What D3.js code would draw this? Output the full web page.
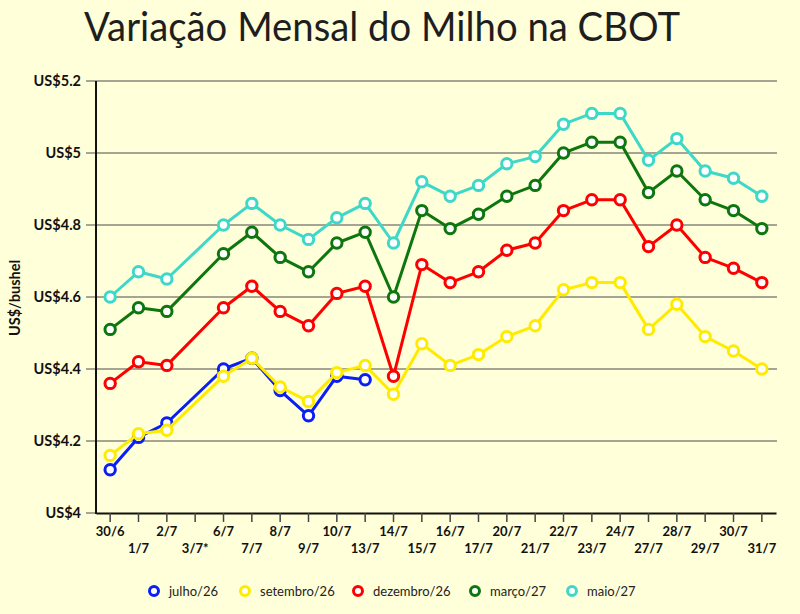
<!DOCTYPE html>
<html><head><meta charset="utf-8">
<script src="https://cdn.jsdelivr.net/npm/d3@7"></script>
<style>
html,body{margin:0;padding:0;background:#FFFFD9;}
svg{display:block;font-family:Lato,"Open Sans",sans-serif;}
</style></head>
<body>
<svg id="c" width="800" height="614"></svg>
<script>
const categories = ["30/6","1/7","2/7","3/7*","6/7","7/7","8/7","9/7","10/7","13/7","14/7","15/7","16/7","17/7","20/7","21/7","22/7","23/7","24/7","27/7","28/7","29/7","30/7","31/7"];
const julho26 =    [4.12,4.21,4.25,null,4.40,4.43,4.34,4.27,4.38,4.37,null,null,null,null,null,null,null,null,null,null,null,null,null,null];
const setembro26 = [4.16,4.22,4.23,null,4.38,4.43,4.35,4.31,4.39,4.41,4.33,4.47,4.41,4.44,4.49,4.52,4.62,4.64,4.64,4.51,4.58,4.49,4.45,4.40];
const dezembro26 = [4.36,4.42,4.41,null,4.57,4.63,4.56,4.52,4.61,4.63,4.38,4.69,4.64,4.67,4.73,4.75,4.84,4.87,4.87,4.74,4.80,4.71,4.68,4.64];
const marco27 =    [4.51,4.57,4.56,null,4.72,4.78,4.71,4.67,4.75,4.78,4.60,4.84,4.79,4.83,4.88,4.91,5.00,5.03,5.03,4.89,4.95,4.87,4.84,4.79];
const maio27 =     [4.60,4.67,4.65,null,4.80,4.86,4.80,4.76,4.82,4.86,4.75,4.92,4.88,4.91,4.97,4.99,5.08,5.11,5.11,4.98,5.04,4.95,4.93,4.88];
const seriesNames = ["julho/26","setembro/26","dezembro/26","março/27","maio/27"];
const seriesColors = ["#0A1EF5","#FFEB00","#FF0000","#0E760E","#3ED8C8"];
const yTicks = [4,4.2,4.4,4.6,4.8,5,5.2];
const yTickLabels = ["US$4","US$4.2","US$4.4","US$4.6","US$4.8","US$5","US$5.2"];

const seriesValues = [julho26,setembro26,dezembro26,marco27,maio27];
const svg = d3.select("#c");
const L=96, R=776, T=81, B=513;
const x = d3.scaleBand().domain(categories).range([L,R]);
const y = d3.scaleLinear().domain([4,5.2]).range([B,T]);
const cx = c => x(c)+x.bandwidth()/2;

// title
svg.append("text").attr("x",84).attr("y",41).attr("font-size",41).attr("fill","#1e1e1e")
  .attr("textLength",596).attr("lengthAdjust","spacingAndGlyphs")
  .text("Variação Mensal do Milho na CBOT");

// grid
svg.append("g").selectAll("line").data(yTicks.slice(1)).join("line")
  .attr("x1",86).attr("x2",777).attr("y1",d=>y(d)).attr("y2",d=>y(d))
  .attr("stroke","#a6a593").attr("stroke-width",2);
svg.append("line").attr("x1",86).attr("x2",96).attr("y1",y(4)).attr("y2",y(4)).attr("stroke","#a6a593").attr("stroke-width",2);

// y labels
svg.append("g").selectAll("text").data(yTicks).join("text")
  .attr("x",81).attr("y",d=>y(d)+5).attr("text-anchor","end")
  .attr("font-size",14.5).attr("font-weight","bold").attr("fill","#111")
  .text((d,i)=>yTickLabels[i]);

svg.append("text").attr("transform","translate(20,298) rotate(-90)").attr("text-anchor","middle")
  .attr("font-size",14.5).attr("font-weight","bold").attr("fill","#111").text("US$/bushel");

// x axis
const xg = svg.append("g").attr("transform",`translate(0,${B})`);
xg.call(d3.axisBottom(x).tickSize(9).tickSizeOuter(0));
xg.select(".domain").attr("stroke","#111").attr("stroke-width",2);
xg.selectAll(".tick line").attr("stroke","#444").attr("stroke-width",1.5);
xg.selectAll(".tick text").attr("font-size",13).attr("font-weight","bold").attr("fill","#111")
  .attr("font-family","Lato,sans-serif")
  .attr("y",(d,i)=> i%2===0 ? 14 : 31);
svg.append("line").attr("x1",L).attr("x2",L).attr("y1",T).attr("y2",B+1).attr("stroke","#111").attr("stroke-width",2);

// series
const line = d3.line().x(d=>cx(d.c)).y(d=>y(d.v));
seriesValues.forEach((vals,si)=>{
  const pts = categories.map((c,i)=>({c,v:vals[i]})).filter(d=>d.v!=null);
  const g = svg.append("g");
  g.append("path").datum(pts).attr("d",line).attr("fill","none")
    .attr("stroke",seriesColors[si]).attr("stroke-width",3).attr("stroke-linejoin","round");
  g.selectAll("circle").data(pts).join("circle")
    .attr("cx",d=>cx(d.c)).attr("cy",d=>y(d.v)).attr("r",5.2)
    .attr("fill","#fff").attr("stroke",seriesColors[si]).attr("stroke-width",3);
});

// legend
const legX = [154,245,358,475,572];
const lg = svg.append("g");
seriesNames.forEach((n,i)=>{
  lg.append("circle").attr("cx",legX[i]).attr("cy",591).attr("r",4.5).attr("fill","#fff")
    .attr("stroke",seriesColors[i]).attr("stroke-width",3);
  lg.append("text").attr("x",legX[i]+15).attr("y",596).attr("font-size",13).attr("fill","#222").text(n);
});
</script>
</body></html>
